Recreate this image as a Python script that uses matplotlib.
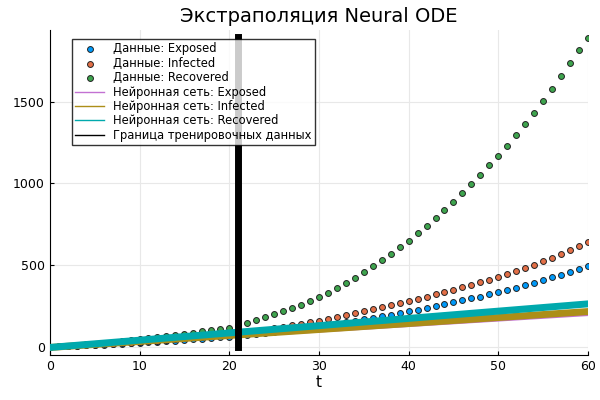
import numpy as np
import matplotlib.pyplot as plt

t = np.arange(0, 61)
exposed = [0, 1, 3, 5, 7, 9, 12, 14, 17, 20, 23,
           26, 30, 33, 37, 41, 45, 49, 53, 57, 61,
           66, 71, 77, 83, 89, 95, 102, 109, 117, 125,
           133, 141, 150, 159, 168, 177, 186, 196, 206, 216,
           227, 238, 249, 260, 271, 283, 295, 307, 320, 333,
           347, 362, 377, 392, 408, 424, 441, 458, 476, 495]
infected = [0, 2, 4, 6, 9, 12, 15, 18, 21, 25, 29,
            33, 37, 41, 46, 51, 56, 61, 66, 71, 76,
            83, 90, 97, 105, 113, 121, 130, 139, 149, 160,
            171, 182, 193, 205, 217, 229, 241, 253, 265, 278,
            292, 306, 320, 335, 350, 365, 380, 395, 410, 426,
            444, 463, 482, 502, 523, 545, 568, 591, 615, 640]
recovered = [0, 3, 6, 10, 14, 18, 23, 28, 33, 38, 44,
             50, 56, 63, 70, 77, 85, 93, 101, 109, 117,
             132, 147, 163, 180, 198, 217, 237, 258, 279, 302,
             330, 360, 391, 423, 457, 492, 529, 568, 608, 650,
             695, 740, 787, 836, 887, 940, 995, 1052, 1111, 1170,
             1230, 1295, 1362, 1432, 1505, 1580, 1658, 1738, 1820, 1890]

# neural network predictions (straight lines)
nn_t = [0, 60]
nn_exposed = [-2, 200]
nn_infected = [-5, 215]
nn_recovered = [-5, 262]
train_end = 21

fig = plt.figure(figsize=(6, 4), dpi=100)
ax = fig.add_axes([0.083, 0.113, 0.897, 0.812])

kw = dict(s=18, edgecolors='#222222', linewidths=0.7, zorder=2)
ax.scatter(t, exposed, color='#009AFA', label='Данные: Exposed', **kw)
ax.scatter(t, infected, color='#E36F47', label='Данные: Infected', **kw)
ax.scatter(t, recovered, color='#3EA44E', label='Данные: Recovered', **kw)
ax.plot(nn_t, nn_exposed, color='#C271D2', lw=3, label='Нейронная сеть: Exposed', zorder=4)
ax.plot(nn_t, nn_infected, color='#AC8E18', lw=5, label='Нейронная сеть: Infected', zorder=4)
ax.plot(nn_t, nn_recovered, color='#00A9AD', lw=5, label='Нейронная сеть: Recovered', zorder=4)
ax.plot([train_end, train_end], [0, 1900], color='black', lw=5,
        label='Граница тренировочных данных', zorder=5)

ax.set_xlim(0, 60)
ax.set_ylim(-50, 1940)
ax.set_xticks(range(0, 61, 10))
ax.set_yticks(range(0, 1501, 500))
ax.grid(True, color='#e8e8e8', lw=0.8)
ax.set_axisbelow(True)
for s in ['top', 'right']:
    ax.spines[s].set_visible(False)
ax.tick_params(direction='in', length=3, labelsize=9)
ax.set_xlabel('t', fontsize=11, labelpad=2)
ax.set_title('Экстраполяция Neural ODE', fontsize=14)

leg = ax.legend(loc='upper left', bbox_to_anchor=(0.03, 0.99), fontsize=8.3,
                frameon=True, fancybox=False, edgecolor='black',
                handlelength=2.5, borderpad=0.3, labelspacing=0.12)
for h in leg.legend_handles[3:]:
    h.set_linewidth(1)

fig.savefig('out.png', dpi=100)
